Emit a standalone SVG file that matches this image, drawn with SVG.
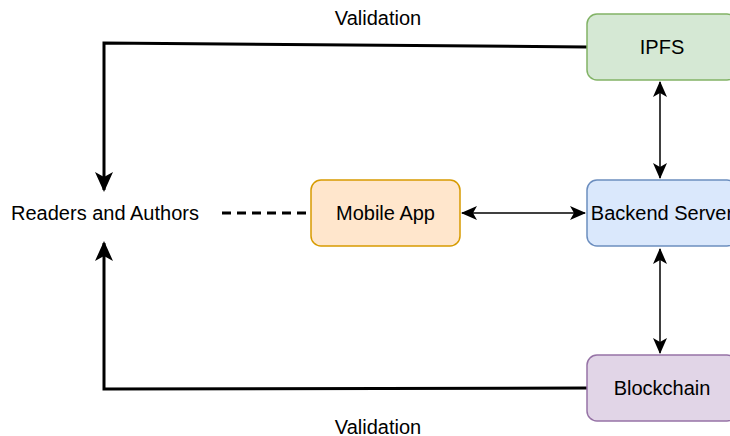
<svg xmlns="http://www.w3.org/2000/svg" width="730" height="436" viewBox="0 0 730 436">
<style>
text{font-family:"Liberation Sans",Arial,sans-serif;font-size:20px;fill:#000;text-anchor:middle;dominant-baseline:central}
.box{stroke-width:1.5}
.thick{fill:none;stroke:#000;stroke-width:3}
.thin{fill:none;stroke:#000;stroke-width:1.5}
</style>
<defs>
<marker id="big" viewBox="0 0 20 20" refX="18" refY="10" markerWidth="20" markerHeight="20" markerUnits="userSpaceOnUse" orient="auto">
<path d="M0,1 L20,10 L0,19 L5,10 Z" fill="#000"/>
</marker>
<marker id="sm" viewBox="0 0 16 14" refX="15" refY="7" markerWidth="16" markerHeight="14" markerUnits="userSpaceOnUse" orient="auto-start-reverse">
<path d="M0,0 L16,7 L0,14 L4,7 Z" fill="#000"/>
</marker>
</defs>
<rect width="730" height="436" fill="#fff"/>
<g id="connectors">
<polyline class="thick" points="587,47 104,43 104,190" marker-end="url(#big)"/>
<polyline class="thick" points="587,388 104,389 104,243" marker-end="url(#big)"/>
<line class="thick" x1="222" y1="213" x2="311" y2="213" stroke-dasharray="9 6"/>
<line class="thin" x1="462" y1="213" x2="585" y2="213" marker-start="url(#sm)" marker-end="url(#sm)"/>
<line class="thin" x1="660" y1="82" x2="660" y2="178" marker-start="url(#sm)" marker-end="url(#sm)"/>
<line class="thin" x1="660" y1="249" x2="660" y2="353" marker-start="url(#sm)" marker-end="url(#sm)"/>
</g>
<g id="label-top"><text x="378" y="18">Validation</text></g>
<g id="label-bottom"><text x="378" y="427">Validation</text></g>
<g id="readers"><text x="105" y="213">Readers and Authors</text></g>
<g id="mobile">
<rect class="box" x="311" y="180" width="149" height="66" rx="10" fill="#ffe6cc" stroke="#d79b00"/>
<text x="385.5" y="213">Mobile App</text>
</g>
<g id="ipfs">
<rect class="box" x="587" y="14" width="150" height="66" rx="10" fill="#d5e8d4" stroke="#82b366"/>
<text x="662" y="47">IPFS</text>
</g>
<g id="backend">
<rect class="box" x="587" y="180" width="150" height="66" rx="10" fill="#dae8fc" stroke="#6c8ebf"/>
<text x="662" y="213">Backend Server</text>
</g>
<g id="blockchain">
<rect class="box" x="587" y="355" width="150" height="66" rx="10" fill="#e1d5e7" stroke="#9673a6"/>
<text x="662" y="388">Blockchain</text>
</g>
</svg>
